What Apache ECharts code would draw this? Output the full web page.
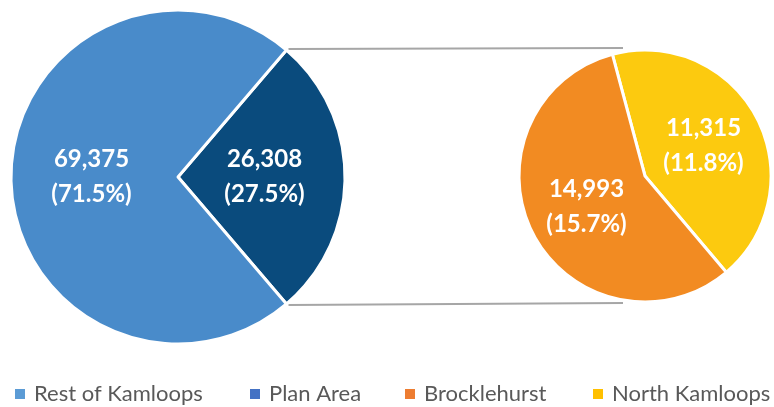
<!DOCTYPE html>
<html>
<head>
<meta charset="utf-8">
<script src="https://cdn.jsdelivr.net/npm/echarts@6/dist/echarts.min.js"></script>
<style>
  html, body { margin: 0; padding: 0; background: #fff; }
  #chart { width: 774px; height: 407px; }
</style>
</head>
<body>
<div id="chart"></div>
<script>
// main pie
const mainNames = ['Plan Area', 'Rest of Kamloops'];
const mainValues = [26308, 69375];
const mainPct = ['27.5%', '71.5%'];
// breakdown of Plan Area
const subNames = ['North Kamloops', 'Brocklehurst'];
const subValues = [11315, 14993];
const subPct = ['11.8%', '15.7%'];

const legendNames = ['Rest of Kamloops', 'Plan Area', 'Brocklehurst', 'North Kamloops'];
const legendColors = ['#5b9bd5', '#4472c4', '#ed7d31', '#ffc000'];
const legendLeft = [8, 243, 398, 586];
const sliceColors = {
  'Rest of Kamloops': '#498bca',
  'Plan Area': '#0a4b7d',
  'Brocklehurst': '#f28b22',
  'North Kamloops': '#fcca0f'
};

// geometry
const leftC = [178, 177], leftR = 167;
const rightC = [645, 176], rightR = 126;
// plan area slice is centred on 3 o'clock
const planDeg = mainValues[0] / (mainValues[0] + mainValues[1]) * 360;
const mainStart = planDeg / 2;
const subStart = 105;

const fmt = v => v.toLocaleString('en-US');

const chart = echarts.init(document.getElementById('chart'));

function pieData(names, values, pct) {
  return names.map((n, i) => ({
    name: n,
    value: values[i],
    pct: pct[i],
    itemStyle: { color: sliceColors[n] }
  }));
}

const labelStyle = {
  show: true,
  position: 'inside',
  color: '#fff',
  fontFamily: 'Lato',
  fontWeight: 'bold',
  fontSize: 24,
  lineHeight: 35,
  formatter: p => fmt(p.value) + '\n(' + p.data.pct + ')'
};

// connector lines from plan area slice corners to the breakdown pie
const a = mainStart * Math.PI / 180;
const p1 = [leftC[0] + leftR * Math.cos(a), leftC[1] - leftR * Math.sin(a)];
const p2 = [leftC[0] + leftR * Math.cos(a), leftC[1] + leftR * Math.sin(a)];
const q1 = [rightC[0] - 22, rightC[1] - rightR - 2];
const q2 = [rightC[0] - 22, rightC[1] + rightR + 1];

// one legend per item so each sits where the reference has it
const legends = legendNames.map((n, i) => ({
  data: [{ name: n, itemStyle: { color: legendColors[i] } }],
  left: legendLeft[i],
  top: 378,
  icon: 'rect',
  itemWidth: 12,
  itemHeight: 12,
  selectedMode: false,
  textStyle: { fontFamily: 'Lato', fontSize: 22, color: '#595959', padding: [0, 0, 0, 3] }
}));

chart.setOption({
  animation: false,
  legend: legends,
  graphic: [
    { type: 'line', z: 0, shape: { x1: p1[0] + 2, y1: p1[1] - 1, x2: q1[0], y2: q1[1] },
      style: { stroke: '#a6a6a6', lineWidth: 2 } },
    { type: 'line', z: 0, shape: { x1: p2[0] + 2, y1: p2[1] + 1, x2: q2[0], y2: q2[1] },
      style: { stroke: '#a6a6a6', lineWidth: 2 } }
  ],
  series: [
    {
      type: 'pie',
      center: leftC,
      radius: leftR,
      startAngle: mainStart,
      clockwise: true,
      silent: true,
      itemStyle: { borderColor: '#fff', borderWidth: 3 },
      label: labelStyle,
      labelLine: { show: false },
      data: pieData(mainNames, mainValues, mainPct)
    },
    {
      type: 'pie',
      center: rightC,
      radius: rightR,
      startAngle: subStart,
      clockwise: true,
      silent: true,
      itemStyle: { borderColor: '#fff', borderWidth: 3 },
      label: labelStyle,
      labelLine: { show: false },
      data: pieData(subNames, subValues, subPct)
    }
  ]
});
</script>
</body>
</html>
